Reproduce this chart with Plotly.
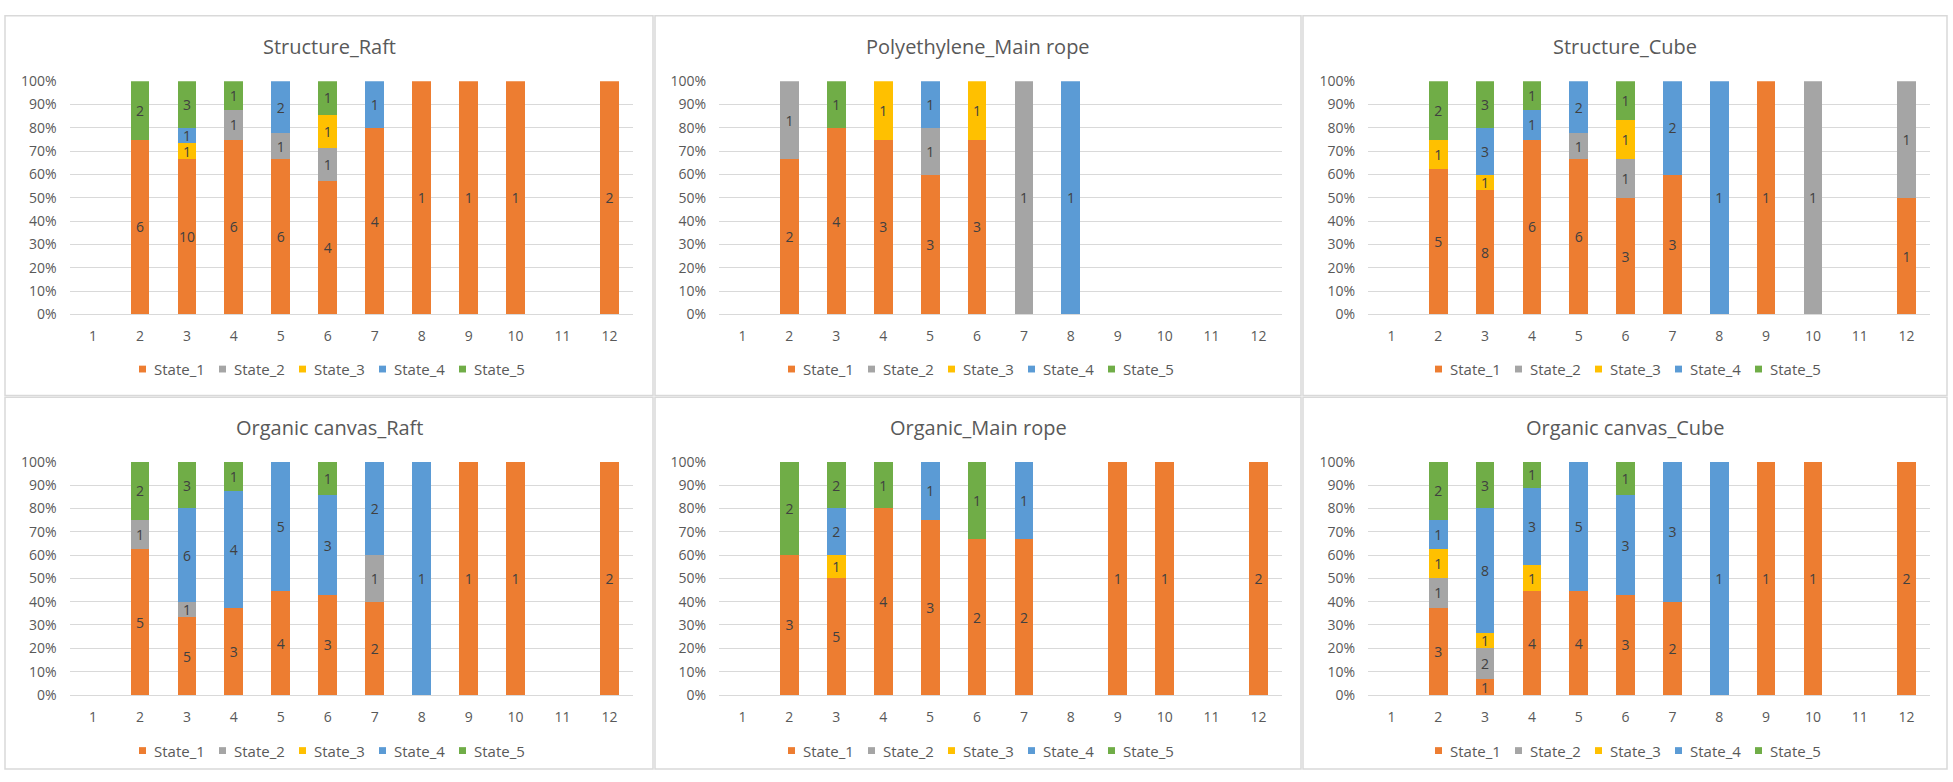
import plotly.graph_objects as go

# ---------------- data ----------------
months = [1, 2, 3, 4, 5, 6, 7, 8, 9, 10, 11, 12]
month_labels = ["1", "2", "3", "4", "5", "6", "7", "8", "9", "10", "11", "12"]
states = ["State_1", "State_2", "State_3", "State_4", "State_5"]
state_colors = ["#ED7D31", "#A5A5A5", "#FFC000", "#5B9BD5", "#70AD47"]

titles = ["Structure_Raft", "Polyethylene_Main rope", "Structure_Cube",
          "Organic canvas_Raft", "Organic_Main rope", "Organic canvas_Cube"]

# counts per state for months 1..12 (0 = no observation)
structure_raft_s1 = [0, 6, 10, 6, 6, 4, 4, 1, 1, 1, 0, 2]
structure_raft_s2 = [0, 0, 0, 1, 1, 1, 0, 0, 0, 0, 0, 0]
structure_raft_s3 = [0, 0, 1, 0, 0, 1, 0, 0, 0, 0, 0, 0]
structure_raft_s4 = [0, 0, 1, 0, 2, 0, 1, 0, 0, 0, 0, 0]
structure_raft_s5 = [0, 2, 3, 1, 0, 1, 0, 0, 0, 0, 0, 0]

poly_rope_s1 = [0, 2, 4, 3, 3, 3, 0, 0, 0, 0, 0, 0]
poly_rope_s2 = [0, 1, 0, 0, 1, 0, 1, 0, 0, 0, 0, 0]
poly_rope_s3 = [0, 0, 0, 1, 0, 1, 0, 0, 0, 0, 0, 0]
poly_rope_s4 = [0, 0, 0, 0, 1, 0, 0, 1, 0, 0, 0, 0]
poly_rope_s5 = [0, 0, 1, 0, 0, 0, 0, 0, 0, 0, 0, 0]

structure_cube_s1 = [0, 5, 8, 6, 6, 3, 3, 0, 1, 0, 0, 1]
structure_cube_s2 = [0, 0, 0, 0, 1, 1, 0, 0, 0, 1, 0, 1]
structure_cube_s3 = [0, 1, 1, 0, 0, 1, 0, 0, 0, 0, 0, 0]
structure_cube_s4 = [0, 0, 3, 1, 2, 0, 2, 1, 0, 0, 0, 0]
structure_cube_s5 = [0, 2, 3, 1, 0, 1, 0, 0, 0, 0, 0, 0]

canvas_raft_s1 = [0, 5, 5, 3, 4, 3, 2, 0, 1, 1, 0, 2]
canvas_raft_s2 = [0, 1, 1, 0, 0, 0, 1, 0, 0, 0, 0, 0]
canvas_raft_s3 = [0, 0, 0, 0, 0, 0, 0, 0, 0, 0, 0, 0]
canvas_raft_s4 = [0, 0, 6, 4, 5, 3, 2, 1, 0, 0, 0, 0]
canvas_raft_s5 = [0, 2, 3, 1, 0, 1, 0, 0, 0, 0, 0, 0]

organic_rope_s1 = [0, 3, 5, 4, 3, 2, 2, 0, 1, 1, 0, 2]
organic_rope_s2 = [0, 0, 0, 0, 0, 0, 0, 0, 0, 0, 0, 0]
organic_rope_s3 = [0, 0, 1, 0, 0, 0, 0, 0, 0, 0, 0, 0]
organic_rope_s4 = [0, 0, 2, 0, 1, 0, 1, 0, 0, 0, 0, 0]
organic_rope_s5 = [0, 2, 2, 1, 0, 1, 0, 0, 0, 0, 0, 0]

canvas_cube_s1 = [0, 3, 1, 4, 4, 3, 2, 0, 1, 1, 0, 2]
canvas_cube_s2 = [0, 1, 2, 0, 0, 0, 0, 0, 0, 0, 0, 0]
canvas_cube_s3 = [0, 1, 1, 1, 0, 0, 0, 0, 0, 0, 0, 0]
canvas_cube_s4 = [0, 1, 8, 3, 5, 3, 3, 1, 0, 0, 0, 0]
canvas_cube_s5 = [0, 2, 3, 1, 0, 1, 0, 0, 0, 0, 0, 0]

y_ticks = [0, 10, 20, 30, 40, 50, 60, 70, 80, 90, 100]

panels = [
    [structure_raft_s1, structure_raft_s2, structure_raft_s3, structure_raft_s4, structure_raft_s5],
    [poly_rope_s1, poly_rope_s2, poly_rope_s3, poly_rope_s4, poly_rope_s5],
    [structure_cube_s1, structure_cube_s2, structure_cube_s3, structure_cube_s4, structure_cube_s5],
    [canvas_raft_s1, canvas_raft_s2, canvas_raft_s3, canvas_raft_s4, canvas_raft_s5],
    [organic_rope_s1, organic_rope_s2, organic_rope_s3, organic_rope_s4, organic_rope_s5],
    [canvas_cube_s1, canvas_cube_s2, canvas_cube_s3, canvas_cube_s4, canvas_cube_s5],
]

# ---------------- layout geometry (pixels) ----------------
W, H = 1953, 782
FONT = "Open Sans, Lato, sans-serif"
TXT = "#595959"
GRID = "#D9D9D9"

panel_x = [(5, 653), (655, 1301), (1303, 1947)]
panel_y = [(6, 395), (397, 778)]
plot_x = [(69.5, 633), (719, 1282), (1368, 1930)]
plot_y = [(73, 312), (463, 702)]
title_y = [37, 428]
legend_y = [368, 759]
LEG_STEP = 80        # px between legend entries
LEG_FIRST = -190     # px offset of first legend marker from panel centre
LEG_MARK = 7         # marker size px
LEG_GAP = 6          # marker-to-text gap px


def fx(px):
    return px / W


def fy(py):
    return 1 - py / H


fig = go.Figure()
layout = dict(
    width=W, height=H,
    margin=dict(l=0, r=0, t=0, b=0),
    paper_bgcolor="white", plot_bgcolor="white",
    barmode="stack", barnorm="percent",
    showlegend=False,
    font=dict(family=FONT, color=TXT, size=14),
    uniformtext=dict(minsize=14, mode="show"),
    annotations=[], shapes=[],
)

for p in range(6):
    r, c = divmod(p, 3)
    n = p + 1
    xa = "x" if n == 1 else f"x{n}"
    ya = "y" if n == 1 else f"y{n}"
    for s in range(5):
        vals = panels[p][s]
        fig.add_trace(go.Bar(
            x=months,
            y=[v if v else None for v in vals],
            text=[str(v) if v else "" for v in vals],
            texttemplate="%{text}",
            textposition="inside",
            insidetextanchor="middle",
            textangle=0,
            textfont=dict(size=14, color="#404040", family=FONT),
            marker=dict(color=state_colors[s], line=dict(width=0)),
            width=0.4,
            name=states[s],
            xaxis=xa, yaxis=ya,
            hoverinfo="skip",
        ))

    xk = "xaxis" if n == 1 else f"xaxis{n}"
    yk = "yaxis" if n == 1 else f"yaxis{n}"
    layout[xk] = dict(
        domain=[fx(plot_x[c][0]), fx(plot_x[c][1])],
        anchor=ya, range=[0.5, 12.5],
        tickmode="array", tickvals=months, ticktext=month_labels,
        showgrid=False, zeroline=False,
        showline=True, linecolor=GRID, linewidth=1,
        ticks="", ticklabelstandoff=9,
        tickfont=dict(size=14, color=TXT, family=FONT),
        fixedrange=True,
    )
    layout[yk] = dict(
        domain=[fy(plot_y[r][1]), fy(plot_y[r][0])],
        anchor=xa, range=[0, 100],
        tickmode="array", tickvals=y_ticks,
        ticktext=[f"{t}%" for t in y_ticks],
        showgrid=True, gridcolor=GRID, gridwidth=1,
        zeroline=False, showline=False, ticks="",
        ticklabelstandoff=12,
        tickfont=dict(size=14, color=TXT, family=FONT),
        fixedrange=True,
    )
    pcx = (panel_x[c][0] + panel_x[c][1]) / 2
    # title
    layout["annotations"].append(dict(
        text=titles[p], xref="paper", yref="paper",
        x=fx(pcx), y=fy(title_y[r]), xanchor="center", yanchor="middle",
        showarrow=False, font=dict(size=20, color=TXT, family=FONT),
    ))
    # panel border
    layout["shapes"].append(dict(
        type="rect", xref="paper", yref="paper",
        x0=fx(panel_x[c][0]), x1=fx(panel_x[c][1]),
        y0=fy(panel_y[r][1]), y1=fy(panel_y[r][0]),
        line=dict(color=GRID, width=1.5), fillcolor="rgba(0,0,0,0)",
        layer="below",
    ))
    # legend (Excel-style: small square + label)
    for s in range(5):
        mx = pcx + LEG_FIRST + LEG_STEP * s
        ly = legend_y[r]
        layout["shapes"].append(dict(
            type="rect", xref="paper", yref="paper",
            x0=fx(mx), x1=fx(mx + LEG_MARK),
            y0=fy(ly + LEG_MARK / 2), y1=fy(ly - LEG_MARK / 2),
            line=dict(width=0), fillcolor=state_colors[s],
        ))
        layout["annotations"].append(dict(
            text=states[s], xref="paper", yref="paper",
            x=fx(mx + LEG_MARK + LEG_GAP), y=fy(ly),
            xanchor="left", yanchor="middle", showarrow=False,
            font=dict(size=15, color=TXT, family=FONT),
        ))

fig.update_layout(**layout)
fig.write_html("out.html", config={"displayModeBar": False},
               post_script="document.body.style.margin='0';document.body.style.overflow='hidden';")
